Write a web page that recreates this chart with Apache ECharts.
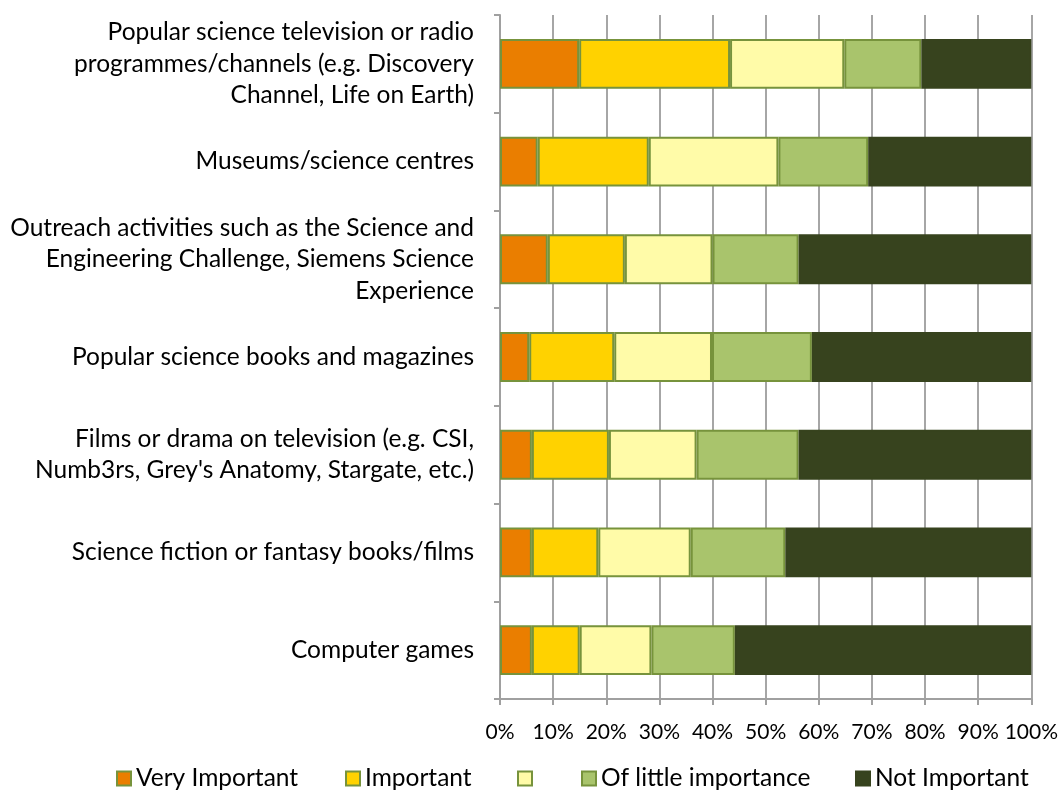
<!DOCTYPE html>
<html>
<head>
<meta charset="utf-8">
<script src="https://cdn.jsdelivr.net/npm/echarts@6/dist/echarts.min.js"></script>
<style>
html,body{margin:0;padding:0;background:#fff;}
#chart{width:1061px;height:792px;}
</style>
</head>
<body>
<div id="chart"></div>
<script>
// ---- data ----
var categories = [
  'Popular science television or radio\nprogrammes/channels (e.g. Discovery\nChannel, Life on Earth)',
  'Museums/science centres',
  'Outreach activities such as the Science and\nEngineering Challenge, Siemens Science\nExperience',
  'Popular science books and magazines',
  'Films or drama on television (e.g. CSI,\nNumb3rs, Grey\'s Anatomy, Stargate, etc.)',
  'Science fiction or fantasy books/films',
  'Computer games'
];
var seriesNames = ['Very Important', 'Important', ' ', 'Of little importance', 'Not Important'];
var veryImportant   = [14.9, 7.1, 9.0, 5.5, 6.0, 6.0, 6.0];
var important       = [28.4, 20.9, 14.5, 16.0, 14.5, 12.5, 9.0];
var neutral         = [21.5, 24.4, 16.5, 18.4, 16.5, 17.4, 13.5];
var littleImportant = [14.5, 16.9, 16.2, 18.8, 19.2, 17.8, 15.7];
var notImportant    = [20.7, 30.7, 43.8, 41.3, 43.8, 46.3, 55.8];
var xTicks = [0, 10, 20, 30, 40, 50, 60, 70, 80, 90, 100];

// ---- styles ----
var seriesValues = [veryImportant, important, neutral, littleImportant, notImportant];
var fills = ['#EA7E00', '#FFD200', '#FFFBA8', '#A9C46C', '#37431E'];
var borders = ['#77933C', '#77933C', '#77933C', '#77933C', '#37431E'];
var legendLeft = [116, 345, 517, 581, 855];
var font = 'Lato, "Open Sans", sans-serif';

var chart = echarts.init(document.getElementById('chart'));

var series = seriesNames.map(function (n, i) {
  return {
    name: n,
    type: 'bar',
    stack: 'total',
    barCategoryGap: '49%',
    data: seriesValues[i],
    itemStyle: { color: fills[i], borderColor: borders[i], borderWidth: 2 },
    emphasis: { disabled: true }
  };
});

var legends = seriesNames.map(function (n, i) {
  return {
    data: [n],
    left: legendLeft[i],
    top: 766,
    icon: 'rect',
    itemWidth: 14,
    itemHeight: 14,
    itemGap: 0,
    padding: 0,
    textStyle: { fontFamily: font, fontSize: 24.5, color: '#000' }
  };
});

chart.setOption({
  animation: false,
  backgroundColor: '#fff',
  legend: legends,
  grid: { left: 500, right: 27, top: 15, bottom: 93, containLabel: false },
  xAxis: {
    type: 'value',
    min: 0,
    max: 100,
    interval: 10,
    axisLine: { show: true, lineStyle: { color: '#A0A0A0', width: 2 } },
    axisTick: { show: true, length: 6, lineStyle: { color: '#A0A0A0', width: 2 } },
    splitLine: { show: true, lineStyle: { color: '#A6A6A6', width: 2 } },
    axisLabel: {
      margin: 23,
      fontFamily: font, fontSize: 21, color: '#000',
      formatter: function (v) { return xTicks.indexOf(v) >= 0 ? v + '%' : ''; }
    }
  },
  yAxis: {
    type: 'category',
    inverse: true,
    data: categories,
    axisLine: { show: true, lineStyle: { color: '#A0A0A0', width: 2 } },
    axisTick: { show: true, length: 6, lineStyle: { color: '#A0A0A0', width: 2 } },
    axisLabel: {
      margin: 26,
      fontFamily: font, fontSize: 24.5, color: '#000',
      lineHeight: 31.5, align: 'right'
    }
  },
  series: series
});
</script>
</body>
</html>
